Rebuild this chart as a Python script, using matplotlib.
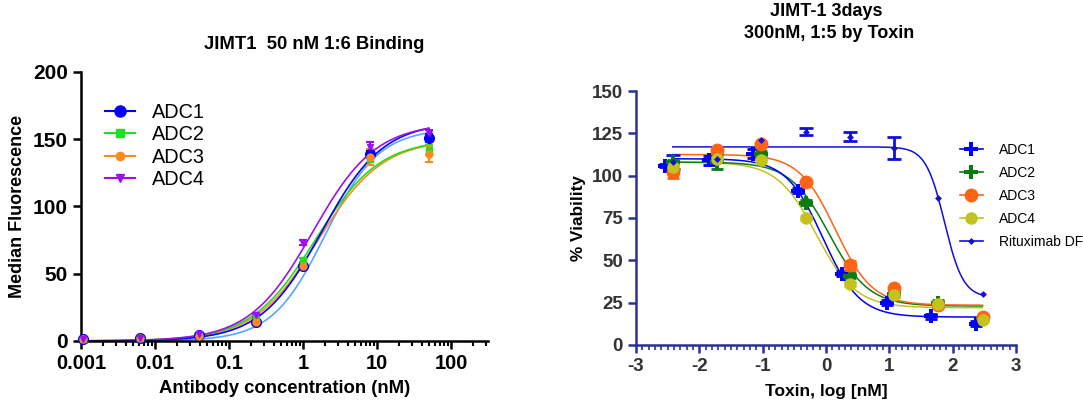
import numpy as np
import matplotlib
matplotlib.use("Agg")
import matplotlib.pyplot as plt
from matplotlib.ticker import MultipleLocator, FixedLocator, NullFormatter, LogLocator

plt.rcParams['font.family'] = ['Liberation Sans', 'DejaVu Sans']
plt.rcParams['axes.unicode_minus'] = False

# ---- left panel: binding ----
conc = [50, 8.0, 1.0, 0.23, 0.039, 0.0062, 0.00107]
bind_names = ['ADC1', 'ADC2', 'ADC3', 'ADC4']
bind_vals = {
    'ADC1': [151, 139, 56, 14, 4.5, 2.2, 1.6],
    'ADC2': [142, 135, 60, 16, 4.3, 2.0, 1.4],
    'ADC3': [139, 137, 56, 14, 4.0, 2.0, 1.4],
    'ADC4': [155, 144, 73, 19, 5.0, 2.3, 1.5],
}
bind_err = {
    'ADC1': [3, 3, 1, 1, 0.5, 0.3, 0.3],
    'ADC2': [4, 4, 1.5, 1, 0.5, 0.3, 0.3],
    'ADC3': [6, 6, 1.5, 1, 0.5, 0.3, 0.3],
    'ADC4': [2, 4, 2, 1, 0.5, 0.3, 0.3],
}
# fitted curve parameters (top, ec50, hill)
bind_fit = {
    'ADC1': (163, 1.8, 1.05),
    'ADC2': (150, 1.46, 1.0),
    'ADC3': (150, 1.6, 1.0),
    'ADC4': (162, 1.35, 1.02),
    'extra': (158, 2.0, 1.2),
}
bind_colors = {'ADC1': '#0000ff', 'ADC2': '#1ee01e', 'ADC3': '#ff8a1c',
               'ADC4': '#9c10f0', 'extra': '#5aa5ff'}
bind_markers = {'ADC1': ('o', 7), 'ADC2': ('s', 5), 'ADC3': ('o', 5), 'ADC4': ('v', 5)}

# ---- right panel: viability ----
logx = [2.47, 1.77, 1.07, 0.38, -0.32, -1.02, -1.72, -2.42]
logx_adc1 = [2.36, 1.66, 0.96, 0.25, -0.44, -1.15, -1.85, -2.55]
via_names = ['ADC1', 'ADC2', 'ADC3', 'ADC4', 'Rituximab DF']
via_vals = {
    'ADC1': [12.5, 17, 25, 42, 91, 113, 109, 106],
    'ADC2': [16, 25, 30, 41, 84, 113, 108, 108],
    'ADC3': [16.5, 23.5, 33.5, 47, 96, 118.5, 115, 102],
    'ADC4': [15, 24, 29.5, 36, 75, 109, 110, 105],
    'Rituximab DF': [30, 87, 116.5, 123, 126, 121, 110, 108],
}
via_err = {
    'ADC1': [1.5, 1.5, 1.5, 1.5, 1.5, 2.5, 2.5, 1],
    'ADC2': [1, 1.5, 1.5, 1.5, 1.5, 1.5, 4, 1],
    'ADC3': [1, 1, 1, 2.5, 1, 1, 1, 3.5],
    'ADC4': [1, 1, 1, 1, 1, 1, 1, 1],
    'Rituximab DF': [0, 0, 6.5, 2.5, 2, 0, 0, 4],
}
# fitted curve parameters (bottom, top, logEC50, hill)
via_fit = {
    'ADC1': (16.5, 110, -0.05, 1.5),
    'ADC2': (23, 108, 0.05, 1.4),
    'ADC3': (23.5, 112.5, 0.15, 1.5),
    'ADC4': (22, 108, -0.15, 1.4),
    'Rituximab DF': (28, 117, 1.87, 2.94),
}
via_colors = {'ADC1': '#0000ff', 'ADC2': '#0a7d12', 'ADC3': '#ff6414',
              'ADC4': '#c4c21c', 'Rituximab DF': '#1010dd'}
via_markers = {'ADC1': ('P', 10), 'ADC2': ('P', 10), 'ADC3': ('o', 10),
               'ADC4': ('o', 9), 'Rituximab DF': ('D', 3.5)}


def four_pl_lin(x, top, ec50, hill):
    return top / (1 + (ec50 / x) ** hill)


def four_pl_log(x, bottom, top, logec50, hill):
    return bottom + (top - bottom) / (1 + 10 ** ((x - logec50) * hill))


fig = plt.figure(figsize=(10.83, 4.09), dpi=100)

# left
ax1 = fig.add_axes([0.0748, 0.1663, 0.3758, 0.6577])
xs = np.logspace(np.log10(min(conc)), np.log10(max(conc)), 300)
for key in ['extra', 'ADC3', 'ADC2', 'ADC1', 'ADC4']:
    ax1.plot(xs, four_pl_lin(xs, *bind_fit[key]), color=bind_colors[key], lw=1.2, zorder=2)
for name in bind_names:
    m, ms = bind_markers[name]
    ax1.errorbar(conc, bind_vals[name], yerr=bind_err[name], fmt=m, ms=ms,
                 color=bind_colors[name], ecolor=bind_colors[name], elinewidth=1.5,
                 capsize=3, capthick=1.5, zorder=3, clip_on=False)
    ax1.plot([], [], marker=m, ms=ms + 1, color=bind_colors[name], lw=1.5, label=name)
ax1.set_xscale('log')
ax1.set_xlim(0.001, 316)
ax1.set_ylim(0, 200)
ax1.yaxis.set_major_locator(MultipleLocator(50))
ax1.xaxis.set_major_locator(FixedLocator([0.001, 0.01, 0.1, 1, 10, 100]))
ax1.xaxis.set_minor_locator(LogLocator(base=10, subs=np.arange(2, 10)))
ax1.xaxis.set_minor_formatter(NullFormatter())
ax1.set_xticklabels(['0.001', '0.01', '0.1', '1', '10', '100'])
for s in ['top', 'right']:
    ax1.spines[s].set_visible(False)
for s in ['left', 'bottom']:
    ax1.spines[s].set_linewidth(1.8)
ax1.tick_params(which='major', length=6, width=1.8, direction='out')
ax1.tick_params(axis='x', which='major', labelsize=14.5)
ax1.tick_params(axis='y', which='major', labelsize=15)
ax1.tick_params(which='minor', length=3.5, width=1.5)
for lab in ax1.get_xticklabels() + ax1.get_yticklabels():
    lab.set_fontweight('bold')
ax1.set_xlabel('Antibody concentration (nM)', fontsize=13.3, fontweight='bold', labelpad=5)
ax1.set_ylabel('Median Fluorescence', fontsize=13, fontweight='bold', labelpad=5)
ax1.legend(loc='upper left', bbox_to_anchor=(0.097, 0.748), bbox_transform=fig.transFigure,
           frameon=False, fontsize=14.3, handlelength=1.5, labelspacing=0.17,
           handletextpad=0.85, borderpad=0, borderaxespad=0)
fig.text(0.29, 0.892, 'JIMT1  50 nM 1:6 Binding', ha='center', va='center',
         fontsize=13.3, fontweight='bold')

# right
navy = '#2b3190'
ax2 = fig.add_axes([0.5873, 0.1565, 0.3509, 0.621])
xr = np.linspace(-2.42, 2.47, 300)
xr1 = np.linspace(-2.42, 2.36, 300)
for name in ['Rituximab DF', 'ADC4', 'ADC2', 'ADC1', 'ADC3']:
    xx = xr1 if name == 'ADC1' else xr
    ax2.plot(xx, four_pl_log(xx, *via_fit[name]), color=via_colors[name], lw=1.1, zorder=2)
for name in via_names:
    m, ms = via_markers[name]
    xp = logx_adc1 if name == 'ADC1' else logx
    cap = 5 if name == 'Rituximab DF' else 4
    keep = [i for i, e in enumerate(via_err[name]) if e > 0]
    ax2.errorbar([xp[i] for i in keep], [via_vals[name][i] for i in keep],
                 yerr=[via_err[name][i] for i in keep], fmt='none',
                 ecolor=via_colors[name], elinewidth=2, capsize=cap, capthick=2, zorder=3)
    ax2.plot(xp, via_vals[name], ls='none', marker=m, ms=ms, color=via_colors[name],
             mew=0, zorder=4)
    ax2.plot([], [], marker=m, ms=ms, color=via_colors[name], lw=1.2, mew=0, label=name)
ax2.set_xlim(-3, 3)
ax2.set_ylim(0, 150)
ax2.xaxis.set_major_locator(MultipleLocator(1))
ax2.xaxis.set_minor_locator(MultipleLocator(0.1))
ax2.yaxis.set_major_locator(MultipleLocator(25))
for s in ['top', 'right']:
    ax2.spines[s].set_visible(False)
for s in ['left', 'bottom']:
    ax2.spines[s].set_linewidth(1.8)
    ax2.spines[s].set_color(navy)
ax2.tick_params(which='major', length=6, width=1.8, labelsize=13.5, color=navy,
                labelcolor='#333333')
ax2.tick_params(which='minor', length=3.5, width=1.2, color=navy)
for lab in ax2.get_xticklabels() + ax2.get_yticklabels():
    lab.set_fontweight('bold')
ax2.set_xlabel('Toxin, log [nM]', fontsize=12.5, fontweight='bold', labelpad=6)
ax2.set_ylabel('% Viability', fontsize=12.3, fontweight='bold', labelpad=4)
ax2.legend(loc='upper left', bbox_to_anchor=(0.8864, 0.650), bbox_transform=fig.transFigure,
           frameon=False, fontsize=10, handlelength=1.65, labelspacing=0.65,
           handletextpad=1.15, borderpad=0, borderaxespad=0)
fig.text(0.763, 0.971, 'JIMT-1 3days', ha='center', va='center', fontsize=13,
         fontweight='bold')
fig.text(0.766, 0.919, '300nM, 1:5 by Toxin', ha='center', va='center', fontsize=13,
         fontweight='bold')

fig.savefig('out.png', dpi=100)
